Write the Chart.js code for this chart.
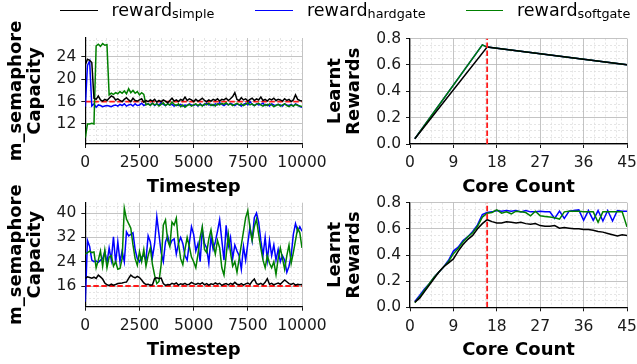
<!DOCTYPE html>
<html>
<head>
<meta charset="utf-8">
<script src="https://cdn.jsdelivr.net/npm/chart.js@4.4.0/dist/chart.umd.min.js"></script>
<style>
  html, body { margin: 0; padding: 0; background: #fff; }
  body { width: 637px; height: 364px; position: relative; overflow: hidden; font-family: "DejaVu Sans", sans-serif; }
  canvas { position: absolute; }
  .sw { position: absolute; height: 0; border-top: 1.6px solid; z-index: 5; }
  .leg { position: absolute; top: 0.5px; font-size: 17.5px; line-height: 18px; color: #000; white-space: nowrap; z-index: 5; }
  .leg sub { font-size: 12.8px; vertical-align: -2px; line-height: 0; }
</style>
</head>
<body>
<div class="sw" style="left:60px;top:9.5px;width:38px;border-color:#000"></div>
<div class="leg" style="left:111.5px">reward<sub>simple</sub></div>
<div class="sw" style="left:255px;top:9.5px;width:38px;border-color:#0000ff"></div>
<div class="leg" style="left:307px">reward<sub>hardgate</sub></div>
<div class="sw" style="left:466px;top:9.5px;width:37px;border-color:#008000"></div>
<div class="leg" style="left:517px">reward<sub>softgate</sub></div>

<canvas id="tl" width="345" height="198" style="left:0;top:0;z-index:1"></canvas>
<canvas id="tr" width="317" height="198" style="left:320px;top:0;z-index:2"></canvas>
<canvas id="bl" width="345" height="191" style="left:0;top:170px;z-index:1"></canvas>
<canvas id="br" width="317" height="191" style="left:320px;top:170px;z-index:2"></canvas>

<script>
// ---------- data ----------
const timesteps = Array.from({ length: 101 }, (_, i) => i * 100);
const coreCounts = Array.from({ length: 45 }, (_, i) => i + 1);

const optimalCapacity = 16;
const optimalCores = 16;

// m_semaphore capacity over training, no contention
const capSimpleA = [
  22.6, 23.6, 23.4, 23.0, 16.6, 16.4, 17.0, 16.3, 16.1, 16.4,
  16.2, 16.6, 17.0, 16.8, 16.3, 16.5, 16.2, 16.0, 16.4, 16.7,
  16.3, 16.0, 16.6, 16.2, 16.1, 16.3, 16.5, 15.9, 16.2, 16.0,
  16.3, 16.1, 16.4, 15.9, 16.2, 16.0, 16.3, 16.1, 15.8, 16.2,
  16.6, 16.1, 16.3, 16.0, 16.4, 16.2, 16.8, 16.2, 16.5, 16.3,
  16.0, 16.4, 16.1, 16.3, 16.6, 16.2, 16.0, 16.3, 16.1, 16.4,
  16.2, 16.5, 16.1, 16.4, 16.3, 16.6, 16.2, 16.5, 16.9, 17.6,
  16.4, 16.2, 16.7, 16.3, 16.5, 16.1, 16.4, 16.6, 16.2, 16.5,
  16.3, 16.8, 16.2, 16.4, 16.1, 16.5, 16.3, 16.6, 16.2, 16.4,
  16.3, 16.1, 16.5, 16.2, 16.4, 16.0, 16.3, 17.2, 16.4, 16.2,
  16.1
];
const capHardgateA = [
  15.1, 22.5, 23.3, 15.2, 15.6, 15.0, 15.4, 15.3, 15.1, 15.2,
  15.3, 15.2, 15.1, 15.3, 15.4, 15.2, 15.5, 15.3, 15.6, 15.2,
  15.4, 15.5, 15.2, 15.6, 15.3, 15.4, 15.7, 15.3, 15.5, 15.6,
  15.4, 15.7, 15.3, 15.6, 15.4, 15.8, 15.5, 15.3, 15.6, 15.4,
  15.5, 15.2, 15.4, 15.3, 15.5, 15.2, 15.4, 15.3, 15.6, 15.4,
  15.3, 15.5, 15.2, 15.6, 15.3, 15.4, 15.7, 15.4, 15.5, 15.3,
  15.6, 15.4, 15.8, 15.5, 15.3, 15.6, 15.4, 15.7, 15.5, 15.3,
  15.6, 15.4, 15.2, 15.5, 15.7, 15.4, 16.0, 15.5, 15.3, 15.6,
  15.4, 15.5, 15.7, 15.3, 15.5, 15.2, 15.6, 15.4, 15.3, 15.5,
  15.4, 15.2, 15.6, 15.4, 15.3, 15.5, 15.2, 15.6, 15.4, 15.1,
  15.0
];
const capSoftgateA = [
  9.5, 12.0, 12.0, 12.1, 12.0, 26.0, 26.3, 25.9, 26.4, 26.1,
  26.2, 17.2, 17.5, 17.3, 17.6, 17.4, 17.8, 17.5, 17.9, 17.4,
  18.3, 17.6, 18.0, 17.5, 17.8, 17.2, 17.6, 17.3, 15.4, 15.6,
  15.3, 15.7, 15.4, 15.6, 15.2, 15.5, 15.8, 15.3, 15.6, 15.4,
  15.9, 15.5, 15.3, 15.6, 15.1, 15.4, 15.0, 15.3, 15.5, 15.2,
  15.4, 15.6, 15.3, 15.5, 15.2, 15.6, 15.4, 15.7, 15.3, 15.5,
  15.2, 15.6, 15.4, 15.7, 15.5, 15.8, 15.4, 15.6, 15.3, 15.5,
  15.7, 15.4, 15.6, 15.3, 15.5, 15.8, 15.4, 15.6, 15.3, 15.5,
  15.7, 15.4, 15.2, 15.5, 15.3, 15.6, 15.4, 15.1, 15.3, 15.5,
  15.2, 15.4, 15.6, 15.3, 15.1, 15.4, 15.2, 15.5, 15.3, 15.2,
  15.1
];

// m_semaphore capacity over training, with contention
const capSimpleB = [
  18.5, 19.0, 18.8, 18.6, 18.9, 18.5, 19.6, 19.0, 18.3, 17.0,
  16.4, 16.2, 16.6, 16.3, 16.5, 16.8, 16.9, 17.0, 17.2, 17.3,
  18.5, 19.6, 19.0, 18.7, 19.2, 18.8, 18.0, 17.0, 16.5, 16.6,
  16.3, 16.4, 18.5, 18.7, 18.5, 18.6, 16.8, 16.2, 16.5, 16.4,
  16.9, 16.6, 17.0, 16.3, 16.7, 16.5, 16.9, 16.4, 16.6, 17.2,
  16.8, 16.5, 16.9, 16.6, 17.1, 16.4, 16.8, 16.3, 16.7, 16.5,
  17.0, 16.6, 16.9, 16.2, 16.6, 16.8, 16.4, 16.9, 16.5, 17.2,
  16.6, 16.4, 16.8, 16.3, 16.7, 17.0, 16.5, 17.6, 18.3, 16.8,
  16.5, 16.9, 16.4, 17.2, 18.4, 16.6, 16.9, 16.4, 16.7, 17.0,
  16.6, 17.3, 18.0, 17.4, 16.8, 16.5, 16.9, 16.3, 16.6, 16.4,
  16.5
];
const capHardgateB = [
  10.8, 31.0, 29.0, 24.5, 24.0, 24.2, 23.8, 24.5, 25.0, 27.3,
  23.5, 28.5, 24.5, 32.2, 23.5, 30.5, 24.0, 27.5, 24.0, 33.8,
  32.5, 33.0, 33.5, 28.0, 25.0, 24.0, 25.5, 26.2, 24.5, 32.5,
  30.5, 25.5, 30.0, 38.8, 33.0, 27.0, 24.0, 30.5, 32.5, 29.4,
  31.0, 31.5, 26.5, 30.0, 32.0, 30.0, 26.0, 24.5, 30.0, 35.5,
  33.0, 27.5, 30.0, 24.0, 34.5, 30.0, 28.5, 23.5, 32.0, 28.0,
  30.5, 34.0, 37.8, 31.0, 24.5, 36.0, 29.0, 32.0, 25.0, 29.5,
  27.5, 26.0, 21.5, 29.0, 24.5, 30.0, 35.5, 31.0, 38.5, 40.0,
  37.0, 31.0, 26.0, 32.0, 24.5, 31.0, 26.0, 29.5, 24.5, 28.0,
  24.0, 26.0, 24.5, 20.5, 22.5, 26.0, 33.0, 36.5, 34.0, 35.5,
  34.0
];
const capSoftgateB = [
  26.5, 27.0, 27.5, 27.0, 27.2, 22.0, 24.5, 27.5, 22.5, 27.8,
  22.0, 25.5, 26.0, 22.5, 24.0, 21.5, 21.8, 25.0, 41.6, 38.0,
  36.5, 35.0, 29.5, 25.0, 22.8, 27.3, 24.0, 28.0, 22.5, 26.0,
  28.5, 23.0, 19.5, 16.8, 17.5, 23.0, 36.0, 37.7, 31.0, 29.0,
  37.0, 36.0, 38.3, 30.0, 25.0, 23.0, 28.0, 32.0, 29.0, 25.5,
  24.0, 22.0, 26.5, 32.0, 35.5, 28.0, 27.0, 31.5, 34.5, 30.0,
  26.5, 31.0, 28.5, 22.0, 19.6, 26.0, 33.0, 27.0, 22.5, 24.0,
  20.5, 25.0, 29.5, 34.0, 38.5, 40.8, 35.0, 31.0, 35.5, 38.0,
  33.0, 28.5, 24.5, 22.0, 26.0, 23.5, 22.0, 24.0, 19.8, 25.0,
  28.5, 25.0, 21.5, 26.0, 29.5, 23.5, 27.0, 31.0, 35.0, 33.5,
  28.5
];

// learnt reward per core count, no contention
const rewardSimpleCoresA = [1, 16, 45];
const rewardSimpleA = [0.04, 0.735, 0.60];
const rewardGateCoresA = [1, 15, 16, 45];
const rewardHardgateA = [0.04, 0.752, 0.735, 0.60];
const rewardSoftgateA = [0.04, 0.752, 0.735, 0.60];

// learnt reward per core count (1..45), with contention
const rewardSimpleB = [
  0.04, 0.07, 0.12, 0.17, 0.22, 0.27, 0.31, 0.34, 0.37, 0.43,
  0.48, 0.52, 0.55, 0.60, 0.64, 0.67, 0.655, 0.645, 0.645, 0.655,
  0.65, 0.645, 0.65, 0.64, 0.635, 0.64, 0.625, 0.62, 0.62, 0.625,
  0.605, 0.61, 0.605, 0.60, 0.60, 0.595, 0.595, 0.59, 0.58, 0.575,
  0.565, 0.555, 0.545, 0.555, 0.55
];
const rewardHardgateB = [
  0.045, 0.09, 0.14, 0.18, 0.23, 0.27, 0.31, 0.36, 0.43, 0.46,
  0.51, 0.54, 0.58, 0.63, 0.71, 0.725, 0.73, 0.74, 0.735, 0.74,
  0.735, 0.74, 0.73, 0.74, 0.73, 0.73, 0.735, 0.73, 0.73, 0.68,
  0.735, 0.68, 0.735, 0.74, 0.745, 0.665, 0.74, 0.665, 0.74, 0.66,
  0.74, 0.66, 0.74, 0.735, 0.735
];
const rewardSoftgateB = [
  0.035, 0.08, 0.13, 0.18, 0.23, 0.27, 0.31, 0.35, 0.41, 0.45,
  0.50, 0.54, 0.57, 0.62, 0.69, 0.72, 0.725, 0.745, 0.72, 0.73,
  0.715, 0.735, 0.73, 0.725, 0.70, 0.735, 0.70, 0.695, 0.69, 0.685,
  0.675, 0.73, 0.735, 0.735, 0.735, 0.73, 0.73, 0.73, 0.65, 0.73,
  0.73, 0.73, 0.73, 0.73, 0.615
];

// axis ticks
const timestepTicks = [0, 2500, 5000, 7500, 10000];
const capTicksA = [12, 16, 20, 24];
const capTicksB = [16, 24, 32, 40];
const coreTicks = [0, 9, 18, 27, 36, 45];
const rewardTicks = [0, 0.2, 0.4, 0.6, 0.8];

// ---------- drawing ----------
const COLORS = { simple: '#000000', hardgate: '#0000ff', softgate: '#008000', opt: '#ff1a1a' };
const TICK_FONT = { family: 'DejaVu Sans', size: 15.5 };
const TITLE_FONT = { family: 'DejaVu Sans', size: 18, weight: 'bold' };

function pts(xs, ys) { return ys.map((y, i) => ({ x: xs[i], y })); }
function steps(lo, hi, step) {
  const out = [];
  for (let v = lo; v <= hi + 1e-9; v += step) out.push(+v.toFixed(6));
  return out;
}

function line(data, color, extra) {
  return Object.assign({ data, borderColor: color, borderWidth: 1.5, pointRadius: 0, tension: 0, fill: false }, extra || {});
}
function optLine(data) {
  return line(data, COLORS.opt, { borderWidth: 1.8, borderDash: [5.5, 2.5] });
}

function build(id, o) {
  const minorX = steps(o.xRange[0], o.xRange[1], o.xMinor).filter(v => !o.xTicks.includes(v));
  const minorY = steps(o.yMinorStart, o.yRange[1], o.yMinor).filter(v => !o.yTicks.some(t => Math.abs(t - v) < 1e-9));
  const major = {
    color: '#b5b5b5', lineWidth: 0.8, tickColor: '#1a1a1a', tickLength: 4, tickWidth: 1
  };
  const minorGrid = { color: '#dadada', lineWidth: 0.7, drawTicks: false, z: -2 };
  new Chart(document.getElementById(id), {
    type: 'line',
    data: { datasets: o.datasets },
    options: {
      responsive: false, animation: false, events: [],
      layout: { padding: { top: o.padTop, right: o.padRight, left: 0, bottom: 0 } },
      plugins: { legend: { display: false }, tooltip: { enabled: false } },
      scales: {
        x: {
          type: 'linear', position: 'bottom', min: o.xRange[0], max: o.xRange[1],
          afterBuildTicks: s => { s.ticks = o.xTicks.map(v => ({ value: v })); },
          afterFit: s => { s.height = o.xHeight; s.paddingLeft = 0; s.paddingRight = 0; },
          grid: major,
          border: { display: true, color: '#000', width: 1.2 },
          ticks: { font: TICK_FONT, color: '#1a1a1a', padding: 6, autoSkip: false, maxRotation: 0,
                   callback: v => String(v) },
          title: { display: true, text: o.xTitle, font: TITLE_FONT, color: '#000', padding: { top: 0, bottom: 0 } }
        },
        xMinor: {
          type: 'linear', position: 'bottom', min: o.xRange[0], max: o.xRange[1],
          afterBuildTicks: s => { s.ticks = minorX.map(v => ({ value: v })); },
          afterFit: s => { s.height = 0; s.paddingLeft = 0; s.paddingRight = 0; },
          grid: minorGrid, border: { display: false, dash: [2, 2] },
          ticks: { display: false }
        },
        y: {
          type: 'linear', position: 'left', min: o.yRange[0], max: o.yRange[1],
          afterBuildTicks: s => { s.ticks = o.yTicks.map(v => ({ value: v })); },
          afterFit: s => { s.width = o.yWidth; s.paddingTop = 0; s.paddingBottom = 0; },
          grid: major,
          border: { display: true, color: '#000', width: 1.2 },
          ticks: { font: TICK_FONT, color: '#1a1a1a', padding: 5, autoSkip: false, callback: o.yFmt },
          title: { display: true, text: o.yTitle, font: Object.assign({ lineHeight: 1.06 }, TITLE_FONT),
                   color: '#000', padding: { top: o.yTitlePad, bottom: 0 } }
        },
        yMinor: {
          type: 'linear', position: 'left', min: o.yRange[0], max: o.yRange[1],
          afterBuildTicks: s => { s.ticks = minorY.map(v => ({ value: v })); },
          afterFit: s => { s.width = 0; s.paddingTop = 0; s.paddingBottom = 0; },
          grid: minorGrid, border: { display: false, dash: [2, 2] },
          ticks: { display: false }
        }
      }
    }
  });
}

const lastT = timesteps[timesteps.length - 1];
const capTitle = ['m_semaphore', 'Capacity'];
const rewardTitle = ['Learnt', 'Rewards'];

build('tl', {
  padTop: 38, padRight: 43, xHeight: 54, yWidth: 85.3, yTitlePad: 6.5,
  xRange: [0, 10000], xTicks: timestepTicks, xMinor: 500, xTitle: 'Timestep',
  yRange: [8.4, 27.4], yTicks: capTicksA, yMinor: 1, yMinorStart: 9, yTitle: capTitle,
  yFmt: v => String(v),
  datasets: [
    line(pts(timesteps, capSimpleA), COLORS.simple),
    line(pts(timesteps, capSoftgateA), COLORS.softgate),
    line(pts(timesteps, capHardgateA), COLORS.hardgate),
    optLine([{ x: timesteps[0], y: optimalCapacity }, { x: lastT, y: optimalCapacity }])
  ]
});

build('tr', {
  padTop: 38.5, padRight: 10, xHeight: 54, yWidth: 90, yTitlePad: 6,
  xRange: [0, 45], xTicks: coreTicks, xMinor: 2.25, xTitle: 'Core Count',
  yRange: [0, 0.8], yTicks: rewardTicks, yMinor: 0.05, yMinorStart: 0, yTitle: rewardTitle,
  yFmt: v => v.toFixed(1),
  datasets: [
    optLine([{ x: optimalCores, y: rewardTicks[0] }, { x: optimalCores, y: rewardTicks[rewardTicks.length - 1] }]),
    line(pts(rewardSimpleCoresA, rewardSimpleA), COLORS.simple),
    line(pts(rewardGateCoresA, rewardSoftgateA), COLORS.softgate),
    line(pts(rewardGateCoresA, rewardHardgateA), COLORS.hardgate)
  ]
});

build('bl', {
  padTop: 32.7, padRight: 43, xHeight: 54.3, yWidth: 85.3, yTitlePad: 6.5,
  xRange: [0, 10000], xTicks: timestepTicks, xMinor: 500, xTitle: 'Timestep',
  yRange: [9.2, 43.4], yTicks: capTicksB, yMinor: 2, yMinorStart: 10, yTitle: capTitle,
  yFmt: v => String(v),
  datasets: [
    line(pts(timesteps, capSimpleB), COLORS.simple),
    line(pts(timesteps, capSoftgateB), COLORS.softgate),
    line(pts(timesteps, capHardgateB), COLORS.hardgate),
    optLine([{ x: timesteps[0], y: optimalCapacity }, { x: lastT, y: optimalCapacity }])
  ]
});

build('br', {
  padTop: 32.7, padRight: 10, xHeight: 53.7, yWidth: 90, yTitlePad: 6,
  xRange: [0, 45], xTicks: coreTicks, xMinor: 2.25, xTitle: 'Core Count',
  yRange: [0, 0.8], yTicks: rewardTicks, yMinor: 0.05, yMinorStart: 0, yTitle: rewardTitle,
  yFmt: v => v.toFixed(1),
  datasets: [
    optLine([{ x: optimalCores, y: rewardTicks[0] }, { x: optimalCores, y: rewardTicks[rewardTicks.length - 1] }]),
    line(pts(coreCounts, rewardSimpleB), COLORS.simple),
    line(pts(coreCounts, rewardSoftgateB), COLORS.softgate),
    line(pts(coreCounts, rewardHardgateB), COLORS.hardgate)
  ]
});
</script>
</body>
</html>
